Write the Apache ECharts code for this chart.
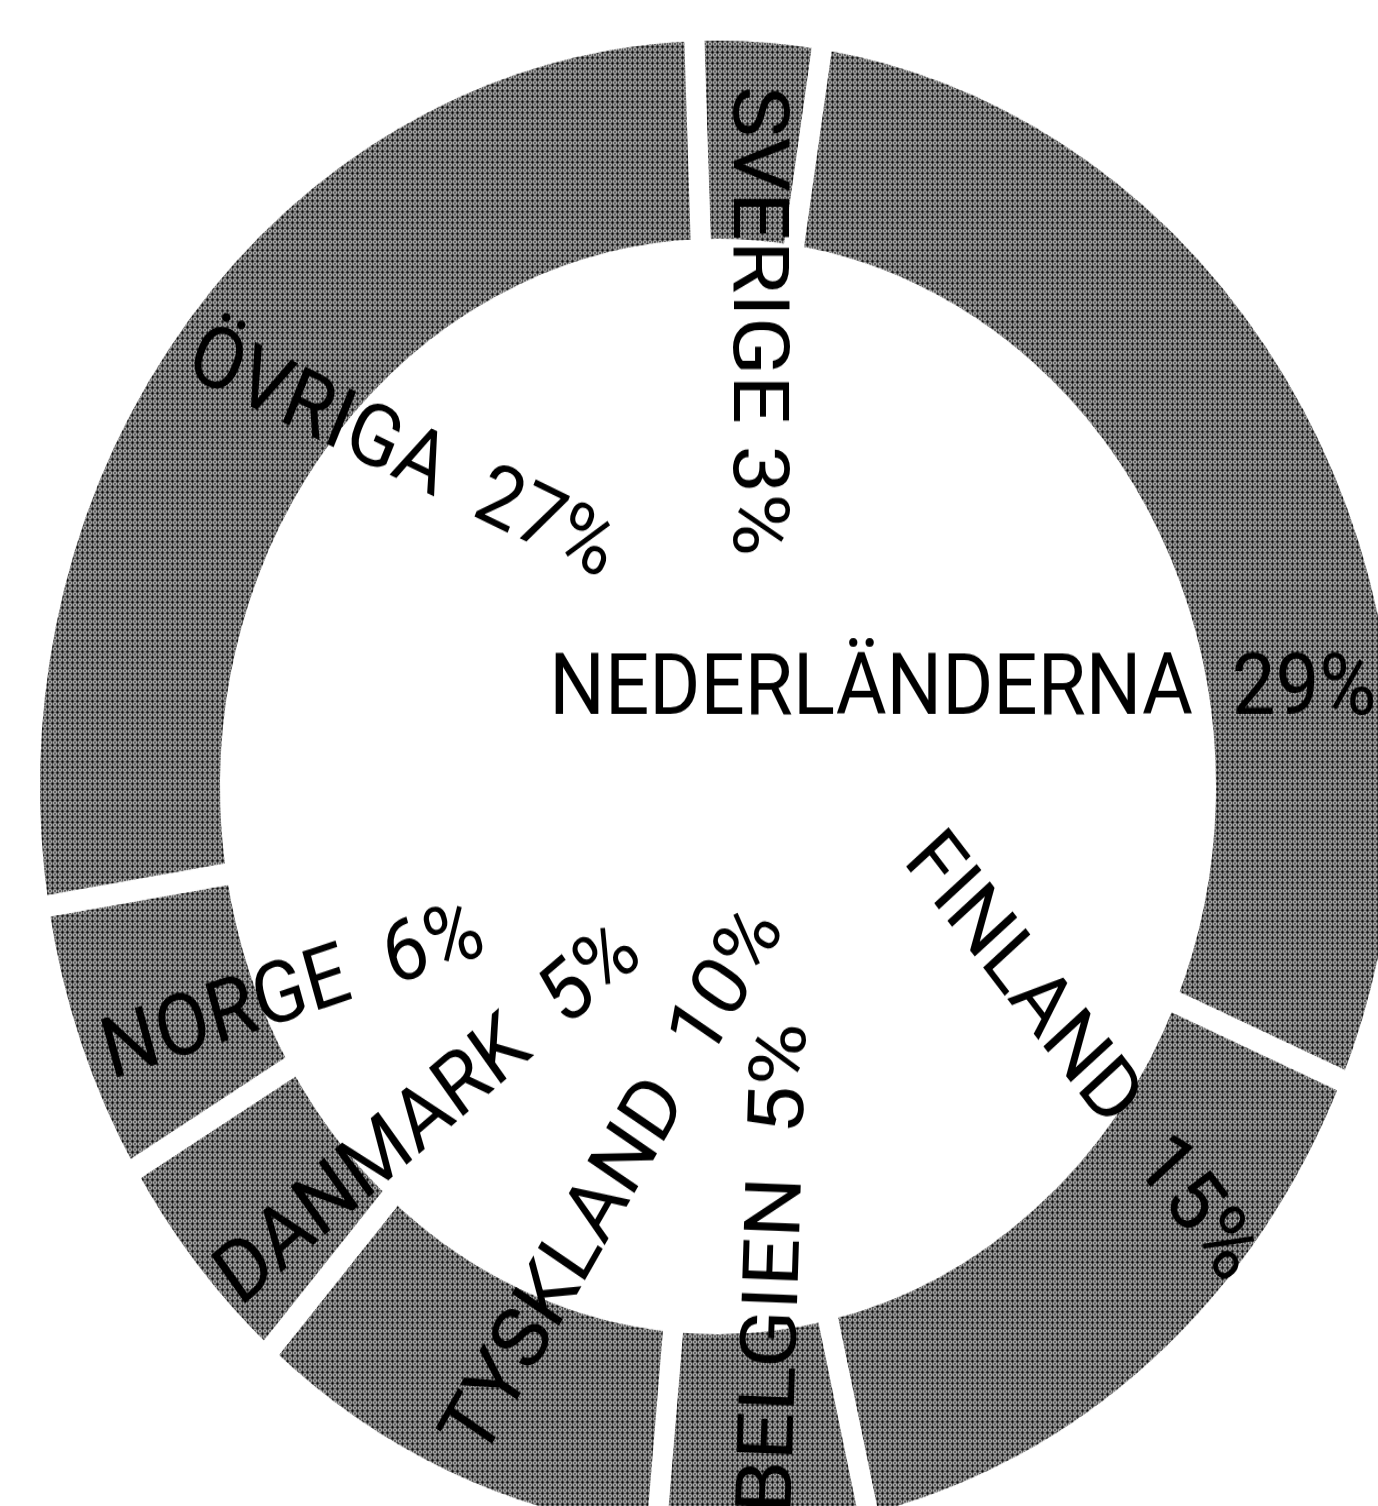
<!DOCTYPE html>
<html>
<head>
<meta charset="utf-8">
<title>Export per land</title>
<script src="https://cdn.jsdelivr.net/npm/echarts@6/dist/echarts.min.js"></script>
<style>
  html { overflow: hidden; }
  body { margin: 0; padding: 0; background: #fff; height: 1506px; }
  /* the picture is a bit taller than wide, so the round chart is stretched */
  #chart { width: 1378px; height: 1369px; transform: scaleY(1.1); transform-origin: 0 0; }
</style>
</head>
<body>
<div id="chart"></div>
<script>
const countries = ['SVERIGE', 'NEDERLÄNDERNA', 'FINLAND', 'BELGIEN', 'TYSKLAND', 'DANMARK', 'NORGE', 'ÖVRIGA'];
const shares = [3, 29, 15, 5, 10, 5, 6, 27];

// label look
const labelRotate = [-90, 0, -50, 88, 58, 38, 17, -24];
const labelOffset = [[167, 0], [-272, 201], [-169, -119], [152, 16], [224, 15], [179, 41], [129, 27], [158, 12]];
const labelGap = [' ', '  ', '  ', '  ', '  ', '  ', '  ', '  '];

// halftone-ish grey fill
function makeDots() {
  const c = document.createElement('canvas');
  c.width = 5; c.height = 5;
  const ctx = c.getContext('2d');
  for (let y = 0; y < 5; y++) {
    for (let x = 0; x < 5; x++) {
      ctx.fillStyle = (x + y) % 2 ? '#aaa' : '#626262';
      ctx.fillRect(x, y, 1, 1);
    }
  }
  ctx.fillStyle = '#2a2a2a';
  ctx.fillRect(1, 2, 3, 1);
  ctx.fillRect(2, 1, 1, 3);
  ctx.fillStyle = '#000';
  ctx.fillRect(2, 2, 1, 1);
  return c;
}

const chart = echarts.init(document.getElementById('chart'));

chart.setOption({
  backgroundColor: '#fff',
  animation: false,
  series: [{
    type: 'pie',
    center: [718, 715],
    radius: [488, 688],
    startAngle: 92,
    clockwise: true,
    silent: true,
    avoidLabelOverlap: false,
    labelLayout: { hideOverlap: false },
    itemStyle: {
      color: { image: makeDots(), repeat: 'repeat' },
      borderColor: '#fff',
      borderWidth: 20
    },
    label: {
      show: true,
      position: 'inside',
      color: '#000',
      fontFamily: 'Roboto',
      fontSize: 78,
      formatter: p => p.name + labelGap[p.dataIndex] + p.value + '%'
    },
    labelLine: { show: false },
    data: countries.map((name, i) => ({
      name: name,
      value: shares[i],
      label: { rotate: labelRotate[i], offset: labelOffset[i] }
    }))
  }]
});
</script>
</body>
</html>
